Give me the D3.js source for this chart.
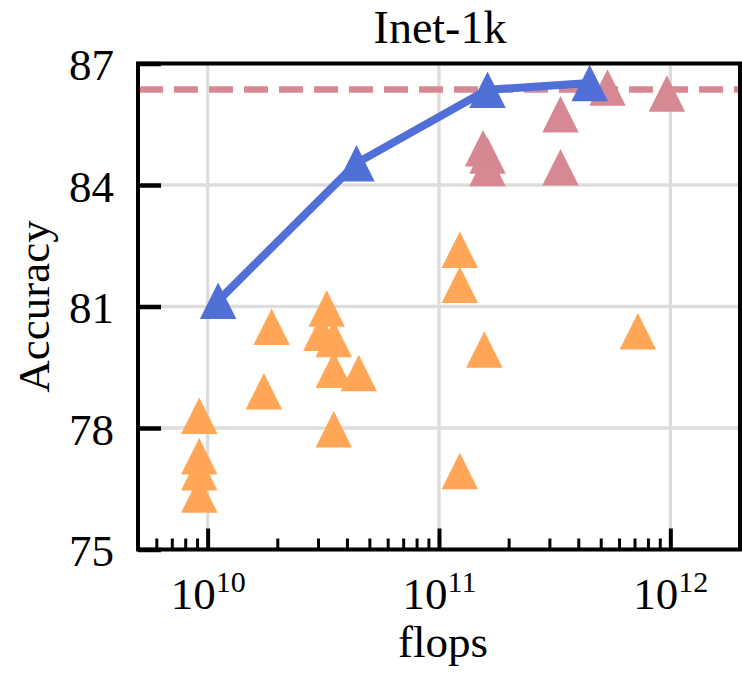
<!DOCTYPE html>
<html>
<head>
<meta charset="utf-8">
<script src="https://cdn.jsdelivr.net/npm/d3@7"></script>
<style>
  html, body { margin: 0; padding: 0; background: #fff; }
  svg { display: block; font-family: "Liberation Serif", "Times New Roman", serif; }
</style>
</head>
<body>
<svg id="chart" width="742" height="673"></svg>
<script>
// Other models (orange)
const otherFlops = [1.89e10, 3.27e10, 3.10e10, 3.51e10, 3.51e10, 4.50e10, 1.75e10,
                    9.2e9, 9.2e9, 9.2e9, 9.2e9, 3.51e10,
                    1.23e11, 1.23e11, 1.57e11, 7.24e11, 1.23e11];
const otherAcc   = [80.50, 80.95, 80.35, 80.20, 79.44, 79.36, 78.91,
                    78.30, 77.30, 76.91, 76.36, 77.97,
                    82.40, 81.54, 79.94, 80.39, 76.94];

// Large models (pink)
const largeFlops = [1.55e11, 1.62e11, 1.62e11, 3.35e11, 3.35e11, 5.35e11, 9.66e11];
const largeAcc   = [84.91, 84.73, 84.42, 85.75, 84.44, 86.41, 86.26];

// Our family (blue line)
const oursFlops = [1.11e10, 4.40e10, 1.62e11, 4.48e11];
const oursAcc   = [81.14, 84.54, 86.35, 86.52];

// Reference accuracy (dashed)
const refAcc = 86.36;

// Axis ticks
const yTicks = [75, 78, 81, 84, 87];
const xMajor = [1e10, 1e11, 1e12];

const title = "Inet-1k";
const xLabel = "flops";
const yLabel = "Accuracy";

const colors = { other: "#ffa756", large: "#d68992", ours: "#5070d8", grid: "#dddddd" };

const L = 138, R = 740, T = 63.5, B = 549.5;
const x = d3.scaleLog().domain([5e9, 2e12]).range([L, R]);
const y = d3.scaleLinear().domain([75, 87]).range([B, T]);

const svg = d3.select("#chart");
const FS = 45;

// grid
const grid = svg.append("g").attr("stroke", colors.grid).attr("stroke-width", 3.3);
grid.selectAll(".gx").data(xMajor).join("line")
  .attr("x1", d => x(d)).attr("x2", d => x(d)).attr("y1", T).attr("y2", B);
grid.selectAll(".gy").data(yTicks).join("line")
  .attr("x1", L).attr("x2", R).attr("y1", d => y(d)).attr("y2", d => y(d));

// clip region for data
svg.append("clipPath").attr("id", "plotclip")
  .append("rect").attr("x", L).attr("y", T).attr("width", R - L).attr("height", B - T);
const plot = svg.append("g").attr("clip-path", "url(#plotclip)");

// dashed reference line
plot.append("line")
  .attr("x1", L + 1).attr("x2", R).attr("y1", y(refAcc)).attr("y2", y(refAcc))
  .attr("stroke", colors.large).attr("stroke-width", 6.5)
  .attr("stroke-dasharray", "24,11");

const S = 36.5;
const tri = `M0,${-S/2}L${S/2},${S/2}L${-S/2},${S/2}Z`;

function markers(fl, acc, color) {
  plot.append("g").selectAll("path").data(fl.map((f, i) => [f, acc[i]])).join("path")
    .attr("d", tri)
    .attr("transform", d => `translate(${x(d[0])},${y(d[1])})`)
    .attr("fill", color);
}

markers(otherFlops, otherAcc, colors.other);
markers(largeFlops, largeAcc, colors.large);

plot.append("path")
  .datum(oursFlops.map((f, i) => [f, oursAcc[i]]))
  .attr("d", d3.line().x(d => x(d[0])).y(d => y(d[1])))
  .attr("fill", "none").attr("stroke", colors.ours)
  .attr("stroke-width", 8).attr("stroke-linejoin", "round");
markers(oursFlops, oursAcc, colors.ours);

// frame
svg.append("rect").attr("x", L).attr("y", T).attr("width", R - L).attr("height", B - T)
  .attr("fill", "none").attr("stroke", "#000").attr("stroke-width", 4);

// x axis: inward ticks, major and minor
const xMinor = x.ticks().filter(d => !xMajor.some(m => Math.abs(m - d) / m < 1e-6));
const gxMinor = svg.append("g").attr("transform", `translate(0,${B})`)
  .call(d3.axisBottom(x).tickValues(xMinor).tickSize(-11).tickFormat(""));
gxMinor.select(".domain").remove();
gxMinor.selectAll(".tick line").attr("stroke", "#000").attr("stroke-width", 3);

const gx = svg.append("g").attr("transform", `translate(0,${B})`)
  .call(d3.axisBottom(x).tickValues(xMajor).tickSize(-21).tickFormat(d => "10"));
gx.select(".domain").remove();
gx.selectAll(".tick line").attr("stroke", "#000").attr("stroke-width", 4);
gx.selectAll(".tick text").each(function (d) {
  const t = d3.select(this);
  t.text(null).attr("y", 59.5).attr("dy", null)
    .attr("font-size", FS).attr("font-family", "Liberation Serif, serif").attr("fill", "#000")
    .attr("text-anchor", "middle");
  t.append("tspan").text("10");
  t.append("tspan").attr("dy", -17).attr("font-size", 30).text(Math.round(Math.log10(d)));
});

// y axis
const gy = svg.append("g").attr("transform", `translate(${L},0)`)
  .call(d3.axisLeft(y).tickValues(yTicks).tickSize(-23).tickPadding(0).tickFormat(d3.format("d")));
gy.select(".domain").remove();
gy.selectAll(".tick line").attr("stroke", "#000").attr("stroke-width", 4.5);
gy.selectAll(".tick text")
  .attr("x", -24).attr("dy", "0.36em")
  .attr("font-size", FS).attr("font-family", "Liberation Serif, serif").attr("fill", "#000")
  .attr("text-anchor", "end");

// labels
svg.append("text").attr("x", (L + R) / 2 + 1).attr("y", 43)
  .attr("text-anchor", "middle").attr("font-size", 46).text(title);
svg.append("text").attr("x", (L + R) / 2 + 4).attr("y", 657)
  .attr("text-anchor", "middle").attr("font-size", FS).text(xLabel);
svg.append("text")
  .attr("transform", `translate(49,${(T + B) / 2}) rotate(-90)`)
  .attr("text-anchor", "middle").attr("font-size", FS).text(yLabel);
</script>
</body>
</html>
